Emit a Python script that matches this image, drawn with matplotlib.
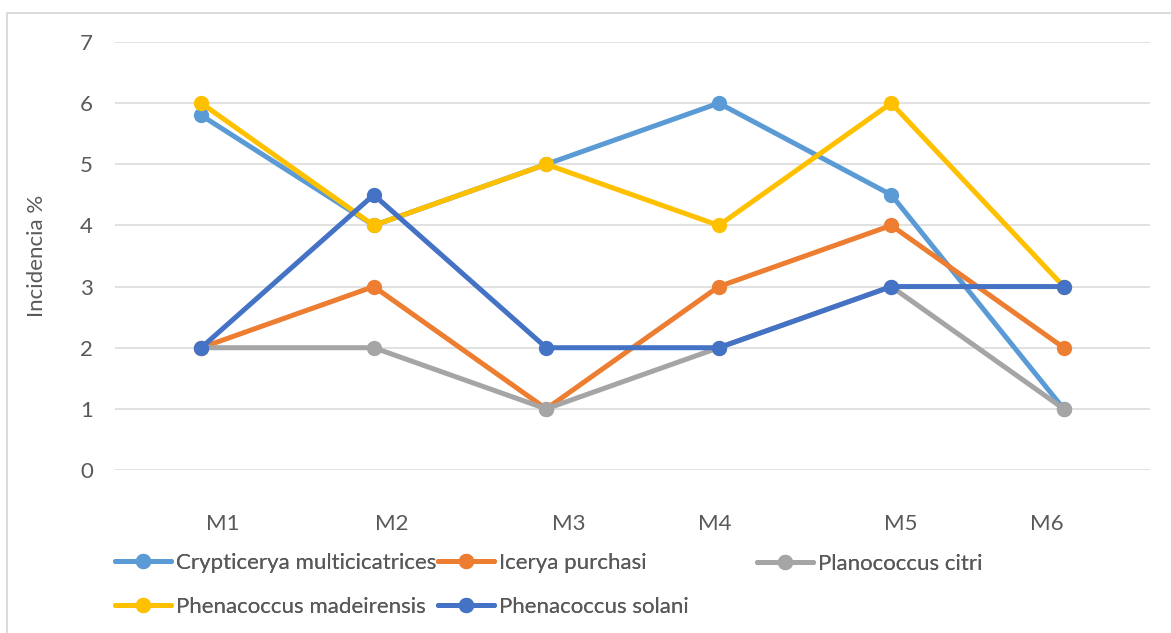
import matplotlib
matplotlib.use("Agg")
import matplotlib.pyplot as plt
import matplotlib.transforms as mtransforms
from matplotlib.patches import Rectangle

# Incidencia (%) por muestreo
months = ["M1", "M2", "M3", "M4", "M5", "M6"]
crypticerya = [5.8, 4, 5, 6, 4.5, 1]
icerya = [2, 3, 1, 3, 4, 2]
planococcus = [2, 2, 1, 2, 3, 1]
phen_madeirensis = [6, 4, 5, 4, 6, 3]
phen_solani = [2, 4.5, 2, 2, 3, 3]

series_names = ["Crypticerya multicicatrices", "Icerya purchasi", "Planococcus citri",
                "Phenacoccus madeirensis", "Phenacoccus solani"]
series_values = [crypticerya, icerya, planococcus, phen_madeirensis, phen_solani]
colors = ["#5B9BD5", "#ED7D31", "#A5A5A5", "#FFC000", "#4472C4"]

# small horizontal shifts (px) of the category labels
label_shift_px = [21, 18, 22, -4, 9, -17]

plt.rcParams["font.family"] = ["Lato", "DejaVu Sans"]
TXT = "#595959"
FS = 16
W, H = 1171, 633

fig = plt.figure(figsize=(W / 100, H / 100), dpi=100)
ax = fig.add_axes([115 / W, 1 - 470 / H, 1035 / W, 428 / H])

x = range(len(months))
lines = []
for name, vals, c in zip(series_names, series_values, colors):
    ln, = ax.plot(x, vals, color=c, lw=3.6, marker="o", ms=10,
                  solid_capstyle="round", label=name, clip_on=False)
    lines.append(ln)

ax.set_xlim(-0.5, len(months) - 0.5)
ax.set_ylim(0, 7)
ax.set_yticks(range(8))
ax.yaxis.grid(True, color="#D9D9D9", lw=1.1)
ax.set_axisbelow(True)
for s in ax.spines.values():
    s.set_visible(False)
ax.tick_params(axis="both", length=0, labelsize=FS, labelcolor=TXT)
ax.tick_params(axis="y", pad=16)
ax.tick_params(axis="x", pad=32)
ax.set_xticks(list(x))
ax.set_xticklabels(months)
for lbl, dx in zip(ax.get_xticklabels(), label_shift_px):
    lbl.set_transform(lbl.get_transform() +
                      mtransforms.ScaledTranslation(dx / 100, 0, fig.dpi_scale_trans))

ax.set_ylabel("Incidencia %", fontsize=FS, color=TXT)
ax.yaxis.set_label_coords(-0.066, 0.5)

# legend laid out in three fixed columns
cols = [([lines[0], lines[3]], 115, 585), ([lines[1], lines[4]], 438, 585),
        ([lines[2]], 757, 564)]
for handles, xpx, ypx in cols:
    leg = fig.legend(handles=handles, labels=[h.get_label() for h in handles],
                     loc="center left", bbox_to_anchor=(xpx / W, 1 - ypx / H),
                     frameon=False, fontsize=FS, handlelength=2.5, handletextpad=0.25,
                     labelspacing=1.1, borderpad=0, borderaxespad=0)
    for t in leg.get_texts():
        t.set_color(TXT)
    fig.add_artist(leg)

# chart area border
fig.patches.append(Rectangle((7 / W, -0.1), 1.2, (H - 13) / H + 0.1,
                             transform=fig.transFigure, fill=False,
                             edgecolor="#D9D9D9", lw=1.3))

fig.savefig("out.png", dpi=100)
